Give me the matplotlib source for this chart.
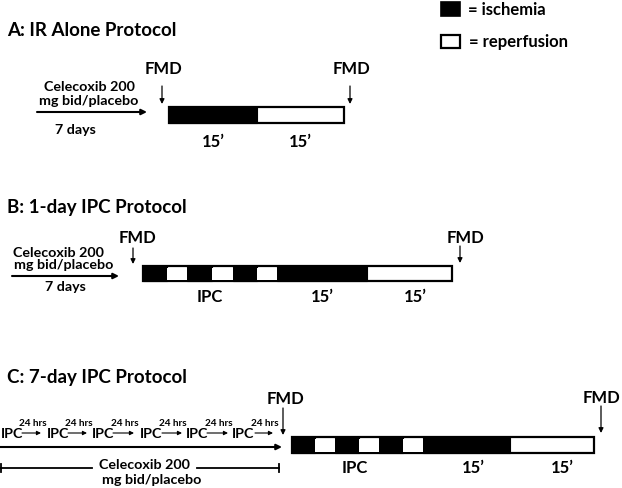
import matplotlib
matplotlib.use("Agg")
import matplotlib.pyplot as plt
from matplotlib.patches import Rectangle

# ---- data ----
legend_labels = ["= ischemia", "= reperfusion"]
panel_titles = ["A: IR Alone Protocol", "B: 1-day IPC Protocol", "C: 7-day IPC Protocol"]
drug_text = ["Celecoxib 200", "mg bid/placebo"]
duration_text = "7 days"
# segment kinds (1 = ischemia, 0 = reperfusion) and their lengths (px widths)
seg_kind_A = [1, 0]
seg_len_A = [88, 87]
seg_kind_B = [1, 0, 1, 0, 1, 0, 1, 0]
seg_len_B = [24, 20, 25, 21, 24, 20, 90, 85]
seg_kind_C = [1, 0, 1, 0, 1, 0, 1, 0]
seg_len_C = [23, 20, 24, 20, 24, 20, 87, 84]
bar_labels_A = ["15\u2019", "15\u2019"]
bar_labels_BC = ["IPC", "15\u2019", "15\u2019"]
ipc_days = ["IPC"] * 6
ipc_gap = ["24 hrs"] * 6

FONT = "Lato"
W, H = 622, 488
fig = plt.figure(figsize=(W / 100, H / 100), dpi=100)
ax = fig.add_axes([0, 0, 1, 1])
ax.set_xlim(0, W)
ax.set_ylim(H, 0)
ax.axis("off")


def txt(x, y, s, size=10, ha="center", va="center"):
    ax.text(x, y, s, fontsize=size, fontweight="bold", family=FONT, ha=ha, va=va, color="black")


def arrow(x0, y0, x1, y1, lw=1.2, ms=8):
    ax.annotate("", xy=(x1, y1), xytext=(x0, y0),
                arrowprops=dict(arrowstyle="-|>", lw=lw, color="black", mutation_scale=ms,
                                shrinkA=0, shrinkB=0))


def bar(x0, y0, h, kinds, lens):
    total = sum(lens)
    ax.add_patch(Rectangle((x0, y0), total, h, facecolor="white", edgecolor="black", lw=1.6, zorder=2))
    x = x0
    for i, (k, l) in enumerate(zip(kinds, lens)):
        if k == 1:
            ax.add_patch(Rectangle((x, y0), l, h, facecolor="black", edgecolor="black", lw=0.8, zorder=3))
        elif i < len(kinds) - 1:
            ax.add_patch(Rectangle((x, y0 + 1.5), l, h - 3, facecolor="white", edgecolor="none", zorder=4))
        x += l
    return x


# legend
ax.add_patch(Rectangle((441, 2), 19, 14, facecolor="black", edgecolor="black", lw=1.2))
ax.add_patch(Rectangle((441, 35), 19, 13, facecolor="white", edgecolor="black", lw=1.6))
txt(468, 10, legend_labels[0], 12, ha="left")
txt(469, 42, legend_labels[1], 12, ha="left")

# ---------- Panel A ----------
txt(7, 30, panel_titles[0], 13.5, ha="left")
txt(89, 87, drug_text[0], 10.3)
txt(89, 101, drug_text[1], 10.3)
arrow(37, 112, 147, 112, lw=1.5)
txt(75, 130, duration_text, 10.3)
bar(169, 107, 16, seg_kind_A, seg_len_A)
arrow(162, 86, 162, 104, lw=0.9, ms=7)
txt(164, 69, "FMD", 12)
arrow(350, 86, 350, 104, lw=0.9, ms=7)
txt(351, 69, "FMD", 12)
txt(213, 142, bar_labels_A[0], 12)
txt(300, 142, bar_labels_A[1], 12)

# ---------- Panel B ----------
txt(7, 208, panel_titles[1], 13.5, ha="left")
txt(58, 253, drug_text[0], 10.3)
txt(64, 265, drug_text[1], 10.3)
arrow(12, 276, 119, 276, lw=1.5)
txt(65, 287, duration_text, 10.3)
bar(143, 266, 15, seg_kind_B, seg_len_B)
arrow(133, 248, 133, 264, lw=0.9, ms=7)
txt(137, 238, "FMD", 12)
arrow(460, 246, 460, 263, lw=0.9, ms=7)
txt(465, 238, "FMD", 12)
txt(210, 297, bar_labels_BC[0], 12)
txt(322, 297, bar_labels_BC[1], 12)
txt(415, 297, bar_labels_BC[2], 12)

# ---------- Panel C ----------
txt(7, 378, panel_titles[2], 13.5, ha="left")
ipc_x = [12, 58, 103, 151, 197, 243]
arr_x = [(22, 41), (68, 87), (113, 134), (162, 182), (207, 228), (255, 273)]
for i in range(6):
    txt(ipc_x[i], 434, ipc_days[i], 10.3)
    a, b = arr_x[i]
    arrow(a, 433, b, 433, lw=0.8, ms=6)
    txt((a + b) / 2 + 1, 423, ipc_gap[i], 7.2)
arrow(0, 447, 282, 447, lw=1.5)
ax.plot([1, 92], [468, 468], color="black", lw=1.3)
ax.plot([1, 1], [464, 472], color="black", lw=1.3)
ax.plot([197, 279], [468, 468], color="black", lw=1.3)
ax.plot([279, 279], [464, 472], color="black", lw=1.3)
txt(144, 465, drug_text[0], 10.3)
txt(152, 480, drug_text[1], 10.3)
bar(292, 437, 16, seg_kind_C, seg_len_C)
arrow(283, 408, 283, 435, lw=0.9, ms=7)
txt(286, 399, "FMD", 12)
arrow(601, 406, 601, 433, lw=0.9, ms=7)
txt(601, 398, "FMD", 12)
txt(355, 468, bar_labels_BC[0], 12)
txt(473, 468, bar_labels_BC[1], 12)
txt(562, 468, bar_labels_BC[2], 12)

fig.savefig("out.png", dpi=100, facecolor="white")
